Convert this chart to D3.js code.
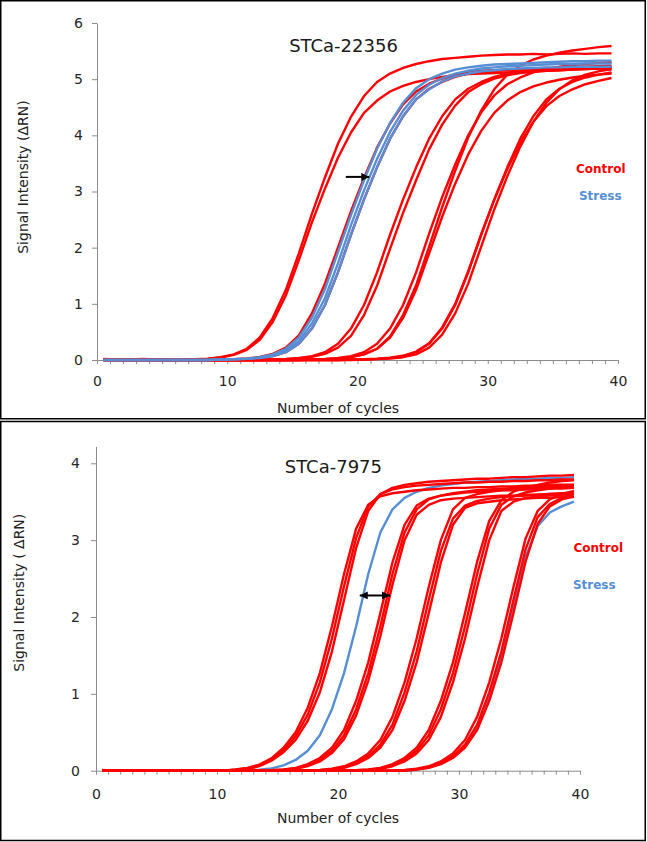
<!DOCTYPE html>
<html lang="en">
<head>
  <meta charset="UTF-8" />
  <title>Amplification curves</title>
  <script src="https://d3js.org/d3.v7.min.js"></script>
  <style>
    body {
      margin: 0;
      background: #fff;
      font-family: "DejaVu Sans", sans-serif;
    }
    .frame {
      fill: none;
      stroke: #000;
      stroke-width: 1.5;
    }
    .axis path,
    .axis line {
      stroke: #8c8c8c;
      stroke-width: 1;
    }
    .axis text {
      font-family: "DejaVu Sans", sans-serif;
      font-size: 14px;
      fill: #262626;
    }
    .curve {
      fill: none;
      stroke-width: 2.4;
      stroke-linejoin: round;
    }
    .label {
      font-size: 14px;
      fill: #222;
    }
    .title {
      font-size: 18px;
      fill: #1a1a1a;
    }
    .legend {
      font-size: 12px;
      font-weight: bold;
    }
  </style>
</head>
<body>
  <svg id="chart" width="647" height="842"></svg>

  <script>
    // cycle numbers (Excel puts each point in the middle of its category)
    const cycles = d3.range(1, 41);
    const xTicks = d3.range(0, 41);
    const xLabels = [0, 10, 20, 30, 40];
    const topYTicks = [0, 1, 2, 3, 4, 5, 6];
    const bottomYTicks = [0, 1, 2, 3, 4];
    const titles = ["STCa-22356", "STCa-7975"];
    const yLabels = ["Signal Intensity (\u0394RN)", "Signal Intensity ( \u0394RN)"];
    const seriesNames = ["Control", "Stress"];

    // STCa-22356, control wells (delta RN per cycle)
    const topControl = [
      [0.02,0.01,0.01,0.02,0.01,0,0,0.015,0.025,0.05, 0.1,0.2,0.4,0.75,1.25,1.9,2.6,3.25,3.85,4.33,
       4.7,4.95,5.1,5.2,5.27,5.32,5.36,5.38,5.4,5.42, 5.43,5.44,5.44,5.45,5.44,5.45,5.46,5.45,5.46,5.46],
      [0.01,0.01,0,0.01,0,0,0,0.01,0.02,0.045, 0.09,0.18,0.36,0.68,1.15,1.78,2.45,3.05,3.6,4.05,
       4.4,4.62,4.78,4.88,4.95,5.0,5.04,5.07,5.09,5.1, 5.11,5.12,5.13,5.14,5.15,5.16,5.17,5.18,5.19,5.2],
      [0.01,0,0,0.01,0,0,0,0,0,0.01, 0.015,0.028,0.055,0.11,0.22,0.44,0.83,1.36,2.0,2.65,
       3.24,3.78,4.21,4.55,4.78,4.92,5.01,5.07,5.12,5.15, 5.16,5.17,5.18,5.19,5.2,5.2,5.21,5.21,5.22,5.22],
      [0.01,0,0,0,0,0,0,0,0,0.008, 0.012,0.02,0.035,0.07,0.14,0.29,0.56,0.98,1.56,2.23,
       2.86,3.43,3.94,4.34,4.64,4.83,4.95,5.04,5.1,5.13, 5.15,5.16,5.17,5.17,5.18,5.18,5.18,5.19,5.19,5.17],
      [0.01,0,0,0,0,0,0,0,0,0, 0,0,0.008,0.012,0.02,0.035,0.07,0.14,0.29,0.56,
       0.98,1.56,2.23,2.86,3.43,3.94,4.34,4.64,4.83,4.95, 5.04,5.1,5.14,5.16,5.18,5.2,5.21,5.22,5.23,5.24],
      [0,0,0,0,0,0,0,0,0,0, 0,0,0,0.01,0.016,0.027,0.055,0.11,0.22,0.43,
       0.8,1.32,1.98,2.62,3.2,3.75,4.19,4.53,4.77,4.91, 5.01,5.07,5.11,5.13,5.15,5.16,5.17,5.18,5.19,5.2],
      [0.01,0,0,0,0,0,0,0,0,0, 0,0,0,0,0,0,0.01,0.015,0.025,0.05,
       0.1,0.2,0.42,0.8,1.33,2.02,2.72,3.37,3.96,4.44, 4.82,5.08,5.24,5.35,5.42,5.47,5.51,5.54,5.57,5.59],
      [0,0,0,0,0,0,0,0,0,0, 0,0,0,0,0,0.008,0.012,0.02,0.035,0.07,
       0.14,0.29,0.56,0.98,1.56,2.25,2.9,3.48,4.0,4.41, 4.71,4.91,5.03,5.12,5.18,5.22,5.25,5.27,5.29,5.3],
      [0,0,0,0,0,0,0,0,0,0, 0,0,0,0,0,0,0.01,0.015,0.025,0.05,
       0.1,0.2,0.4,0.75,1.25,1.9,2.55,3.14,3.66,4.08, 4.4,4.62,4.77,4.87,4.94,4.99,5.03,5.06,5.08,5.1],
      [0,0,0,0,0,0,0,0,0,0, 0,0,0,0,0,0,0,0,0,0.008,
       0.012,0.02,0.035,0.07,0.14,0.29,0.56,0.98,1.56,2.23, 2.86,3.43,3.94,4.34,4.64,4.83,4.95,5.03,5.08,5.12],
      [0,0,0,0,0,0,0,0,0,0, 0,0,0,0,0,0,0,0,0,0.008,
       0.013,0.022,0.04,0.075,0.15,0.3,0.58,1.0,1.58,2.24, 2.85,3.4,3.87,4.24,4.52,4.7,4.82,4.91,4.97,5.02],
      [0,0,0,0,0,0,0,0,0,0, 0,0,0,0,0,0,0,0,0,0,
       0.01,0.015,0.025,0.05,0.1,0.22,0.45,0.83,1.36,2.02, 2.68,3.27,3.8,4.24,4.58,4.82,4.98,5.08,5.14,5.18]
    ];

    // STCa-22356, stress wells
    const topStress = [
      [0,0,0,0,0,0,0,0,0,0.01, 0.015,0.025,0.05,0.1,0.2,0.4,0.75,1.26,1.92,2.58,
       3.2,3.76,4.22,4.58,4.84,5.0,5.1,5.17,5.21,5.24, 5.26,5.27,5.28,5.29,5.3,5.31,5.32,5.32,5.33,5.33],
      [0,0,0,0,0,0,0,0,0,0.01, 0.013,0.022,0.042,0.085,0.17,0.34,0.65,1.1,1.72,2.4,
       3.02,3.58,4.06,4.44,4.72,4.9,5.02,5.1,5.15,5.19, 5.21,5.23,5.24,5.25,5.26,5.27,5.27,5.28,5.28,5.28],
      [0,0,0,0,0,0,0,0,0,0.008, 0.012,0.02,0.035,0.07,0.14,0.29,0.56,0.98,1.56,2.23,
       2.86,3.43,3.94,4.34,4.64,4.82,4.96,5.05,5.1,5.14, 5.16,5.18,5.19,5.2,5.21,5.21,5.22,5.22,5.22,5.22]
    ];

    // STCa-7975, control wells
    const bottomControl = [
      [0.01,0,0,0,0,0,0,0,0,0, 0,0.008,0.02,0.06,0.13,0.24,0.4,0.65,1.02,1.55,
       2.22,2.9,3.38,3.6,3.68,3.72,3.74,3.76,3.77,3.78, 3.79,3.8,3.8,3.81,3.82,3.82,3.83,3.84,3.84,3.85],
      [0,0,0,0,0,0,0,0,0,0, 0,0.015,0.035,0.08,0.16,0.3,0.5,0.82,1.27,1.88,
       2.56,3.15,3.46,3.57,3.61,3.63,3.65,3.66,3.67,3.68, 3.68,3.69,3.69,3.7,3.7,3.71,3.71,3.72,3.72,3.72],
      [0,0,0,0,0,0,0,0,0,0, 0,0.012,0.028,0.07,0.145,0.27,0.45,0.73,1.15,1.72,
       2.4,3.03,3.44,3.6,3.66,3.69,3.71,3.72,3.73,3.74, 3.75,3.75,3.76,3.76,3.77,3.77,3.78,3.78,3.79,3.79],
      [0,0,0,0,0,0,0,0,0,0, 0,0,0,0,0.005,0.013,0.03,0.07,0.14,0.26,
       0.46,0.8,1.27,1.88,2.56,3.1,3.4,3.53,3.58,3.61, 3.63,3.65,3.66,3.67,3.68,3.69,3.7,3.71,3.71,3.72],
      [0,0,0,0,0,0,0,0,0,0, 0,0,0,0,0.006,0.016,0.037,0.085,0.165,0.3,
       0.53,0.91,1.41,2.05,2.71,3.2,3.45,3.54,3.58,3.6, 3.62,3.63,3.64,3.65,3.65,3.66,3.66,3.67,3.67,3.68],
      [0,0,0,0,0,0,0,0,0,0, 0,0,0,0,0.004,0.011,0.026,0.06,0.12,0.23,
       0.41,0.72,1.17,1.75,2.42,3.0,3.33,3.46,3.52,3.54, 3.55,3.56,3.57,3.58,3.58,3.59,3.59,3.6,3.6,3.61],
      [0,0,0,0,0,0,0,0,0,0, 0,0,0,0,0,0,0,0,0.008,0.02,
       0.045,0.1,0.19,0.34,0.6,1.02,1.55,2.22,2.86,3.28, 3.45,3.51,3.54,3.56,3.57,3.58,3.59,3.6,3.61,3.62],
      [0,0,0,0,0,0,0,0,0,0, 0,0,0,0,0,0,0,0,0.01,0.025,
       0.058,0.12,0.225,0.4,0.7,1.15,1.72,2.39,3.0,3.4, 3.55,3.6,3.63,3.65,3.66,3.67,3.68,3.69,3.69,3.7],
      [0,0,0,0,0,0,0,0,0,0, 0,0,0,0,0,0,0,0,0,0.016,
       0.037,0.085,0.165,0.3,0.53,0.91,1.41,2.05,2.71,3.2, 3.42,3.48,3.5,3.52,3.53,3.54,3.55,3.55,3.56,3.56],
      [0,0,0,0,0,0,0,0,0,0, 0,0,0,0,0,0,0,0,0,0,
       0,0.005,0.013,0.03,0.07,0.14,0.26,0.46,0.8,1.27, 1.88,2.56,3.15,3.46,3.57,3.62,3.65,3.67,3.69,3.7],
      [0,0,0,0,0,0,0,0,0,0, 0,0,0,0,0,0,0,0,0,0,
       0,0.006,0.016,0.037,0.085,0.165,0.3,0.53,0.91,1.41, 2.05,2.72,3.25,3.52,3.63,3.69,3.72,3.75,3.77,3.78],
      [0,0,0,0,0,0,0,0,0,0, 0,0,0,0,0,0,0,0,0,0,
       0,0,0.01,0.025,0.058,0.12,0.225,0.4,0.7,1.15, 1.72,2.39,3.0,3.38,3.5,3.55,3.57,3.58,3.59,3.6],
      [0,0,0,0,0,0,0,0,0,0, 0,0,0,0,0,0,0,0,0,0,
       0,0,0,0,0,0.008,0.02,0.045,0.1,0.19, 0.34,0.6,1.02,1.55,2.22,2.88,3.3,3.47,3.55,3.6],
      [0,0,0,0,0,0,0,0,0,0, 0,0,0,0,0,0,0,0,0,0,
       0,0,0,0,0,0.01,0.025,0.058,0.12,0.225, 0.4,0.7,1.15,1.72,2.39,3.02,3.38,3.53,3.6,3.64],
      [0,0,0,0,0,0,0,0,0,0, 0,0,0,0,0,0,0,0,0,0,
       0,0,0,0,0,0,0.016,0.037,0.085,0.165, 0.3,0.53,0.91,1.41,2.05,2.72,3.21,3.44,3.53,3.57]
    ];

    // STCa-7975, stress wells
    const bottomStress = [
      [0,0,0,0,0,0,0,0,0,0, 0,0,0.005,0.013,0.03,0.07,0.14,0.26,0.46,0.8,
       1.27,1.88,2.56,3.1,3.4,3.55,3.63,3.68,3.71,3.73, 3.75,3.76,3.77,3.78,3.79,3.8,3.8,3.81,3.81,3.82],
      [0,0,0,0,0,0,0,0,0,0, 0,0,0,0,0,0,0,0,0,0,
       0,0,0,0,0,0,0.015,0.04,0.09,0.18, 0.32,0.57,0.97,1.48,2.13,2.78,3.18,3.36,3.44,3.5]
    ];

    // shift arrows: [cycle, delta RN] for each end
    const topArrow = [[19.1, 3.26], [20.9, 3.26]];
    const bottomArrow = [[21.8, 2.28], [24.3, 2.28]];

    const RED = "#ff0000";
    const BLUE = "#558ed5";

    const svg = d3.select("#chart");

    const defs = svg.append("defs");
    defs.append("marker")
      .attr("id", "head")
      .attr("viewBox", "0 0 10 10")
      .attr("refX", 10)
      .attr("refY", 5)
      .attr("markerWidth", 9)
      .attr("markerHeight", 8)
      .attr("markerUnits", "userSpaceOnUse")
      .attr("orient", "auto-start-reverse")
      .append("path")
      .attr("d", "M0,0L10,5L0,10z")
      .attr("fill", "#000");

    const panels = [
      {
        control: topControl, stress: topStress, yTicks: topYTicks, yMax: 6,
        title: titles[0], yLabel: yLabels[0], arrow: topArrow, bothHeads: false,
        stressOnTop: true,
        frame: [0.75, 0.75, 644.5, 418],
        left: 97, right: 618, bottom: 360, top: 23,
        xPad: 12, yPad: 9,
        xTitle: [338, 408], yTitle: [23.5, 177], titlePos: [343.5, 45.7],
        legendPos: [[600.8, 168.3], [600.3, 196]]
      },
      {
        control: bottomControl, stress: bottomStress, yTicks: bottomYTicks, yMax: 4.22,
        title: titles[1], yLabel: yLabels[1], arrow: bottomArrow, bothHeads: true,
        stressOnTop: false,
        frame: [0.75, 421.5, 644.5, 419],
        left: 96, right: 580, bottom: 770.7, top: 446.4,
        xPad: 14, yPad: 11,
        xTitle: [338, 818.3], yTitle: [19.4, 592.7], titlePos: [333.4, 466.7],
        legendPos: [[598.3, 547.7], [594.3, 584.3]]
      }
    ];

    panels.forEach(p => {
      const g = svg.append("g");

      g.append("rect")
        .attr("class", "frame")
        .attr("x", p.frame[0])
        .attr("y", p.frame[1])
        .attr("width", p.frame[2])
        .attr("height", p.frame[3]);

      const x = d3.scaleLinear().domain([0, 40]).range([p.left, p.right]);
      const y = d3.scaleLinear().domain([0, p.yMax]).range([p.bottom, p.top]);

      // axes
      g.append("g")
        .attr("class", "axis")
        .attr("transform", `translate(0,${p.bottom})`)
        .call(d3.axisBottom(x)
          .tickValues(xTicks)
          .tickSize(4)
          .tickSizeOuter(0)
          .tickPadding(p.xPad)
          .tickFormat(d => xLabels.includes(d) ? d : ""));

      g.append("g")
        .attr("class", "axis")
        .attr("transform", `translate(${p.left},0)`)
        .call(d3.axisLeft(y)
          .tickValues(p.yTicks)
          .tickSize(5)
          .tickSizeOuter(0)
          .tickPadding(p.yPad)
          .tickFormat(d3.format("d")));

      const line = d3.line()
        .x((v, i) => x(cycles[i] - 0.5))
        .y(v => y(v));

      const layers = [
        { data: p.control, color: RED },
        { data: p.stress, color: BLUE }
      ];
      if (!p.stressOnTop) layers.reverse();

      layers.forEach(l => {
        g.append("g")
          .selectAll("path")
          .data(l.data)
          .join("path")
          .attr("class", "curve")
          .attr("stroke", l.color)
          .attr("d", line);
      });

      // arrow showing the shift
      g.append("line")
        .attr("x1", x(p.arrow[0][0]))
        .attr("y1", y(p.arrow[0][1]))
        .attr("x2", x(p.arrow[1][0]))
        .attr("y2", y(p.arrow[1][1]))
        .attr("stroke", "#000")
        .attr("stroke-width", 2)
        .attr("marker-end", "url(#head)")
        .attr("marker-start", p.bothHeads ? "url(#head)" : null);

      // texts
      g.append("text")
        .attr("class", "title")
        .attr("x", p.titlePos[0])
        .attr("y", p.titlePos[1])
        .attr("dy", "0.35em")
        .attr("text-anchor", "middle")
        .text(p.title);

      g.append("text")
        .attr("class", "label")
        .attr("x", p.xTitle[0])
        .attr("y", p.xTitle[1])
        .attr("dy", "0.35em")
        .attr("text-anchor", "middle")
        .text("Number of cycles");

      g.append("text")
        .attr("class", "label")
        .attr("transform", `translate(${p.yTitle[0]},${p.yTitle[1]}) rotate(-90)`)
        .attr("dy", "0.35em")
        .attr("text-anchor", "middle")
        .text(p.yLabel);

      g.selectAll(".legend")
        .data(seriesNames)
        .join("text")
        .attr("class", "legend")
        .attr("x", (d, i) => p.legendPos[i][0])
        .attr("y", (d, i) => p.legendPos[i][1])
        .attr("dy", "0.35em")
        .attr("text-anchor", "middle")
        .attr("fill", (d, i) => i === 0 ? RED : BLUE)
        .text(d => d);
    });
  </script>
</body>
</html>
